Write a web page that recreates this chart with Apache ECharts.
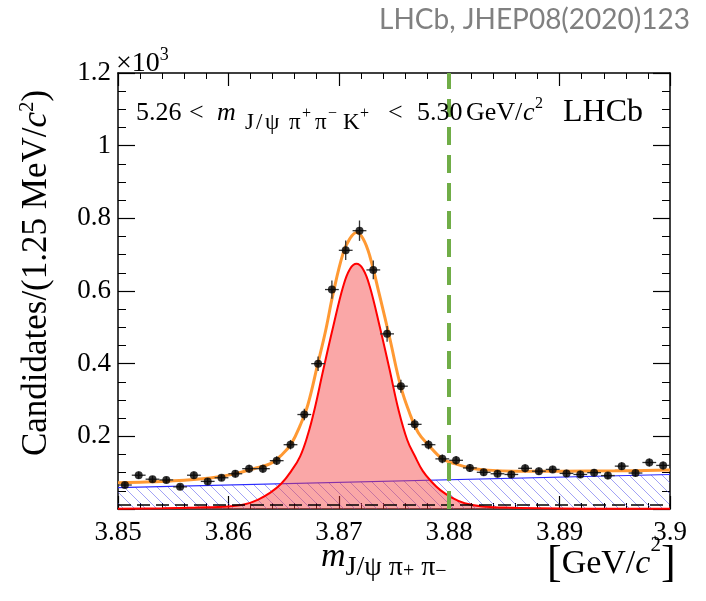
<!DOCTYPE html>
<html>
<head>
<meta charset="utf-8">
<script src="https://cdn.jsdelivr.net/npm/echarts@6/dist/echarts.min.js"></script>
<style>
html, body { margin: 0; padding: 0; background: #fff; }
#wrap { position: relative; width: 706px; height: 601px; }
#chart, #labels, #ticks { position: absolute; left: 0; top: 0; width: 706px; height: 601px; }
#labels, #ticks { pointer-events: none; }
</style>
</head>
<body>
<div id="wrap">
	<div id="chart"></div>
	<div id="labels"></div>
	<div id="ticks"></div>
</div>
<script>
// bin centres in GeV (1.25 MeV bins)
var binCenters = [3.850625, 3.851875, 3.853125, 3.854375, 3.855625, 3.856875, 3.858125, 3.859375,
	3.860625, 3.861875, 3.863125, 3.864375, 3.865625, 3.866875, 3.868125, 3.869375,
	3.870625, 3.871875, 3.873125, 3.874375, 3.875625, 3.876875, 3.878125, 3.879375,
	3.880625, 3.881875, 3.883125, 3.884375, 3.885625, 3.886875, 3.888125, 3.889375,
	3.890625, 3.891875, 3.893125, 3.894375, 3.895625, 3.896875, 3.898125, 3.899375];
// candidates per bin (x10^3)
var counts = [0.066, 0.093, 0.082, 0.080, 0.061, 0.093, 0.076, 0.086, 0.097, 0.111, 0.111, 0.133, 0.177,
	0.260, 0.400, 0.604, 0.712, 0.766, 0.658, 0.482, 0.338, 0.233, 0.177, 0.138, 0.134, 0.113,
	0.101, 0.097, 0.095, 0.112, 0.104, 0.109, 0.098, 0.095, 0.100, 0.092, 0.118, 0.099, 0.128, 0.120];
var countErrors = [0.008, 0.010, 0.009, 0.009, 0.008, 0.010, 0.009, 0.009, 0.010, 0.011, 0.011, 0.012, 0.013,
	0.016, 0.020, 0.025, 0.027, 0.028, 0.026, 0.022, 0.018, 0.015, 0.013, 0.012, 0.012, 0.011,
	0.010, 0.010, 0.010, 0.011, 0.010, 0.010, 0.010, 0.010, 0.010, 0.010, 0.011, 0.010, 0.011, 0.011];
var binHalfWidth = 0.000625;

// total fit (orange)
var fitX = [3.850, 3.853, 3.856, 3.859, 3.861, 3.8625, 3.8638, 3.8648, 3.8657, 3.8665, 3.8672, 3.8681,
	3.8688, 3.8695, 3.8704, 3.8710, 3.8716, 3.8722, 3.8728, 3.8737, 3.8746, 3.8756, 3.8764, 3.8772,
	3.8781, 3.8794, 3.8806, 3.8819, 3.8835, 3.886, 3.890, 3.895, 3.900];
var fitY = [0.072, 0.075, 0.079, 0.088, 0.100, 0.113, 0.125, 0.148, 0.180, 0.230, 0.287, 0.400,
	0.490, 0.595, 0.705, 0.744, 0.761, 0.744, 0.697, 0.587, 0.472, 0.338, 0.265, 0.210,
	0.177, 0.138, 0.124, 0.113, 0.107, 0.104, 0.104, 0.105, 0.107];

// X(3872) signal component (red)
var sigX = [3.850, 3.854, 3.857, 3.860, 3.8615, 3.8627, 3.8638, 3.8648, 3.8657, 3.8665, 3.8672, 3.8678,
	3.8686, 3.8695, 3.8704, 3.8710, 3.8716, 3.8722, 3.8728, 3.8737, 3.8746, 3.8754, 3.8762, 3.8769,
	3.8776, 3.8784, 3.8792, 3.8802, 3.8814, 3.8830, 3.885, 3.888, 3.892, 3.900];
var sigY = [0.001, 0.002, 0.004, 0.007, 0.013, 0.026, 0.045, 0.070, 0.105, 0.145, 0.205, 0.274,
	0.384, 0.503, 0.613, 0.660, 0.675, 0.660, 0.613, 0.503, 0.384, 0.274, 0.190, 0.145,
	0.105, 0.075, 0.052, 0.032, 0.016, 0.007, 0.004, 0.002, 0.001, 0.0005];

// combinatorial background (blue, hatched)
var bkgX = [3.850, 3.900];
var bkgY = [0.059, 0.095];
// flat component (black dashed)
var flatX = [3.850, 3.900];
var flatY = [0.011, 0.011];

var cutMass = 3.88;

function pairs(xs, ys) {
	var out = [];
	for (var i = 0; i < xs.length; i++) {
		out.push([xs[i], ys[i]]);
	}
	return out;
}

// hatch pattern for the background area
function hatch() {
	var s = 11;
	var c = document.createElement('canvas');
	c.width = s;
	c.height = s;
	var ctx = c.getContext('2d');
	ctx.strokeStyle = 'rgba(70,70,235,0.5)';
	ctx.lineWidth = 1;
	ctx.beginPath();
	ctx.moveTo(-1, -1); ctx.lineTo(s + 1, s + 1);
	ctx.moveTo(s - 1, -1); ctx.lineTo(s + 1, 1);
	ctx.moveTo(-1, s - 1); ctx.lineTo(1, s + 1);
	ctx.stroke();
	return c;
}

var serif = 'Liberation Serif';
var gridBox = {left: 118, right: 36, top: 73, bottom: 92};
var myChart = echarts.init(document.getElementById('chart'), null, {renderer: 'canvas'});
// texts (titles, annotation) go on a transparent layer above the plot
var textLayer = echarts.init(document.getElementById('labels'), null, {renderer: 'canvas'});
// tick labels: same axes again, only their labels, on top
var tickLayer = echarts.init(document.getElementById('ticks'), null, {renderer: 'canvas'});

var pointData = [];
for (var i = 0; i < binCenters.length; i++) {
	pointData.push([binCenters[i], counts[i], countErrors[i]]);
}

function xAxisCfg(pos, labelsOnly) {
	return {
		type: 'value', position: pos, min: 3.85, max: 3.9, interval: 0.01,
		axisLine: {show: !labelsOnly, onZero: false, lineStyle: {color: '#000', width: 1.5}},
		axisTick: {show: !labelsOnly, inside: true, length: 13, lineStyle: {color: '#000', width: 1.2}},
		minorTick: {show: !labelsOnly, splitNumber: 5, length: 6, lineStyle: {color: '#000', width: 1}},
		axisLabel: {
			show: labelsOnly && pos == 'bottom', color: '#000', fontFamily: serif, fontSize: 27, margin: 10,
			formatter: function (v) { return String(+v.toFixed(2)); }
		},
		splitLine: {show: false},
		minorSplitLine: {show: false}
	};
}
function yAxisCfg(pos, labelsOnly) {
	return {
		type: 'value', position: pos, min: 0, max: 1.2, interval: 0.2,
		axisLine: {show: !labelsOnly, onZero: false, lineStyle: {color: '#000', width: 1.5}},
		axisTick: {show: !labelsOnly, inside: true, length: 17, lineStyle: {color: '#000', width: 1.2}},
		minorTick: {show: !labelsOnly, splitNumber: 4, length: 8, lineStyle: {color: '#000', width: 1}},
		axisLabel: {
			show: labelsOnly && pos == 'left', color: '#000', fontFamily: serif, fontSize: 27, margin: 7,
			formatter: function (v) { return v === 0 ? '' : String(+v.toFixed(1)); }
		},
		splitLine: {show: false},
		minorSplitLine: {show: false}
	};
}

// one piece of the in-plot label
function piece(txt, left, top, size, italic) {
	return {
		type: 'text', left: left, top: top,
		style: {text: txt, fontFamily: serif, fontSize: size, fontStyle: italic ? 'italic' : 'normal', fill: '#000'}
	};
}

myChart.setOption({
	backgroundColor: '#fff',
	animation: false,
	grid: gridBox,
	xAxis: [xAxisCfg('bottom', false), xAxisCfg('top', false)],
	yAxis: [yAxisCfg('left', false), yAxisCfg('right', false)],
	series: [
		{
			name: 'background', type: 'line', data: pairs(bkgX, bkgY), showSymbol: false, z: 1,
			lineStyle: {color: '#2a2aff', width: 1.2},
			areaStyle: {color: {image: hatch(), repeat: 'repeat'}, opacity: 1}
		},
		{
			name: 'signal', type: 'line', data: pairs(sigX, sigY), showSymbol: false, smooth: 0.4, z: 2,
			lineStyle: {color: '#ff0000', width: 2},
			areaStyle: {color: 'rgba(245, 60, 60, 0.45)', opacity: 1}
		},
		{
			name: 'flat', type: 'line', data: pairs(flatX, flatY), showSymbol: false, z: 3,
			lineStyle: {color: '#000', width: 1.5, type: [13, 6]}
		},
		{
			name: 'total', type: 'line', data: pairs(fitX, fitY), showSymbol: false, smooth: 0.4, z: 4,
			lineStyle: {color: '#ff9933', width: 3}
		},
		{
			name: 'errors', type: 'custom', data: pointData, z: 5,
			renderItem: function (params, api) {
				var x = api.value(0), y = api.value(1), e = api.value(2);
				var lo = api.coord([x, y - e]);
				var hi = api.coord([x, y + e]);
				var l = api.coord([x - binHalfWidth, y]);
				var r = api.coord([x + binHalfWidth, y]);
				return {
					type: 'group',
					children: [
						{type: 'line', shape: {x1: lo[0], y1: lo[1], x2: hi[0], y2: hi[1]}, style: {stroke: '#333', lineWidth: 1.3}},
						{type: 'line', shape: {x1: l[0], y1: l[1], x2: r[0], y2: r[1]}, style: {stroke: '#333', lineWidth: 1.3}}
					]
				};
			}
		},
		{
			name: 'data', type: 'scatter', data: pointData, symbol: 'circle', symbolSize: 8, z: 6,
			itemStyle: {color: '#000'}
		},
		{
			name: 'cut', type: 'line', data: [], z: 7,
			markLine: {
				silent: true, symbol: ['none', 'none'], label: {show: false},
				lineStyle: {color: '#70ad47', width: 4, type: [18, 10]},
				data: [{xAxis: cutMass}]
			}
		}
	]
});

tickLayer.setOption({
	backgroundColor: 'transparent',
	animation: false,
	grid: gridBox,
	xAxis: [xAxisCfg('bottom', true)],
	yAxis: [yAxisCfg('left', true)],
	series: [{type: 'scatter', data: [], silent: true}]
});

textLayer.setOption({
	backgroundColor: 'transparent',
	animation: false,
	graphic: [
		{
			type: 'text', right: 16, top: 6,
			style: {text: 'LHCb, JHEP08(2020)123', fontFamily: 'Lato', fontSize: 28, fill: '#808080'}
		},
		{
			type: 'text', left: 116, top: 46,
			style: {
				text: '{n|×10}{sup|3}', fill: '#000',
				rich: {
					n: {fontFamily: serif, fontSize: 28, lineHeight: 32, verticalAlign: 'bottom', fill: '#000'},
					sup: {fontFamily: serif, fontSize: 18, lineHeight: 26, verticalAlign: 'top', fill: '#000'}
				}
			}
		},
		// 5.26 < m(J/psi pi+ pi- K+) < 5.30 GeV/c^2   LHCb
		piece('5.26', 136, 100, 26, false),
		piece('<', 189, 100, 26, false),
		piece('m', 217, 100, 26, true),
		piece('J', 245, 111, 23, false),
		piece('/', 256, 111, 23, false),
		piece('ψ', 265, 111, 23, false),
		piece('π', 289, 111, 23, false),
		piece('+', 302, 106, 16, false),
		piece('π', 315, 111, 23, false),
		piece('−', 328, 106, 16, false),
		piece('K', 343, 111, 23, false),
		piece('+', 360, 106, 16, false),
		piece('<', 388, 100, 26, false),
		piece('5.30', 417, 100, 26, false),
		piece('GeV/', 466, 100, 26, false),
		piece('c', 523, 100, 26, true),
		piece('2', 535, 96, 16, false),
		piece('LHCb', 563, 97, 32, false),
		{
			type: 'text', x: 37, y: 273, rotation: Math.PI / 2,
			style: {
				text: '{n|Candidates/(1.25 MeV/}{it|c}{sup|2}{n|)}',
				align: 'center', verticalAlign: 'middle', fill: '#000',
				rich: {
					n: {fontFamily: serif, fontSize: 35, lineHeight: 40, verticalAlign: 'middle', fill: '#000'},
					it: {fontFamily: serif, fontSize: 35, fontStyle: 'italic', lineHeight: 40, verticalAlign: 'middle', fill: '#000'},
					sup: {fontFamily: serif, fontSize: 21, lineHeight: 30, verticalAlign: 'top', fill: '#000'}
				}
			}
		},
		{
			type: 'text', left: 321, top: 540,
			style: {
				text: '{it|m}{sub|J/ψ π}{ssup|+}{sub| π}{ssup|−}',
				fill: '#000',
				rich: {
					it: {fontFamily: serif, fontSize: 34, fontStyle: 'italic', lineHeight: 40, verticalAlign: 'top', fill: '#000'},
					sub: {fontFamily: serif, fontSize: 28, lineHeight: 28, verticalAlign: 'bottom', fill: '#000'},
					ssup: {fontFamily: serif, fontSize: 20, lineHeight: 42, verticalAlign: 'bottom', fill: '#000'}
				}
			}
		},
		{
			type: 'text', left: 547, top: 535,
			style: {
				text: '{b|[}{n|GeV/}{it|c}{sup|2}{b|]}',
				fill: '#000',
				rich: {
					b: {fontFamily: serif, fontSize: 44, lineHeight: 58, verticalAlign: 'middle', fill: '#000'},
					n: {fontFamily: serif, fontSize: 34, lineHeight: 58, verticalAlign: 'middle', fill: '#000'},
					it: {fontFamily: serif, fontSize: 34, fontStyle: 'italic', lineHeight: 58, verticalAlign: 'middle', fill: '#000'},
					sup: {fontFamily: serif, fontSize: 21, lineHeight: 46, verticalAlign: 'top', fill: '#000'}
				}
			}
		}
	]
});
</script>
</body>
</html>
